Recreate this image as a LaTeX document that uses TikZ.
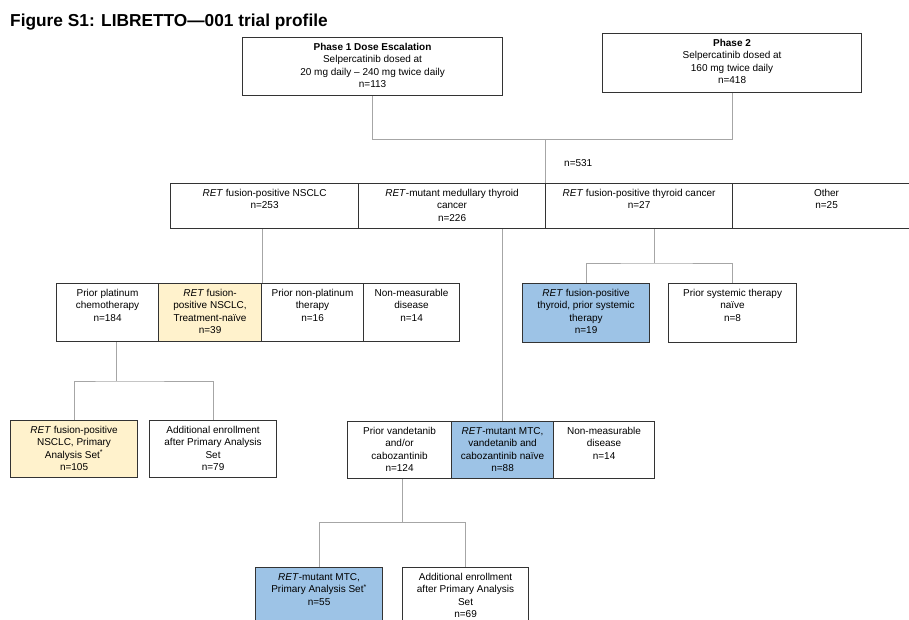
\documentclass[tikz,border=0pt]{standalone}
\usepackage{fontspec}
\setmainfont{Liberation Sans}
\usepackage{tikz}
\usetikzlibrary{shadows}
\definecolor{edge}{HTML}{333333}
\definecolor{link}{HTML}{A6A6A6}
\definecolor{paleY}{HTML}{FFF2CC}
\definecolor{paleB}{HTML}{9DC3E6}
\newcommand{\armbox}[7][]{%
  \node[trialbox,#1,minimum width=#5pt,minimum height=#6pt,anchor=north west] (#2) at (#3,#4)
    {\parbox[c][#6pt][t]{#5pt}{\centering\rule{0pt}{13pt}#7\par}};}

\begin{document}
\begin{tikzpicture}[x=1pt,y=-1pt,
  trialbox/.style={draw=edge,line width=1.1pt,inner sep=0pt,fill=white,
    drop shadow={shadow xshift=0.9pt,shadow yshift=-0.9pt,opacity=0.25,fill=black},
    font=\fontsize{10}{12.3}\selectfont},
  yel/.style={fill=paleY},
  blu/.style={fill=paleB},
  link/.style={draw=link,line width=0.9pt}]
\useasboundingbox (0,0) rectangle (909,619);
\node[font=\bfseries\fontsize{17.3}{20}\selectfont,anchor=base west,inner sep=0pt] (title) at (10,26)
  {Figure S1: LIBRETTO—001 trial profile};
\armbox{p1}{242}{37}{260}{58}{\textbf{Phase 1 Dose Escalation}\\Selpercatinib dosed at\\20 mg daily – 240 mg twice daily\\n=113}
\armbox{p2}{602}{33}{259}{59}{\textbf{Phase 2}\\Selpercatinib dosed at\\160 mg twice daily\\n=418}
\armbox{nsclc}{170}{183}{188}{45}{\textit{RET} fusion-positive NSCLC\\n=253}
\armbox{mtc}{358}{183}{187}{45}{\textit{RET}-mutant medullary thyroid\\cancer\\n=226}
\armbox{thy}{545}{183}{187}{45}{\textit{RET} fusion-positive thyroid cancer\\n=27}
\armbox{other}{732}{183}{188}{45}{Other\\n=25}
\armbox{plat}{56}{283}{102}{58}{Prior platinum\\chemotherapy\\n=184}
\armbox[yel]{naive}{158}{283}{103}{58}{\textit{RET} fusion-\\positive NSCLC,\\Treatment-naïve\\n=39}
\armbox{nonplat}{261}{283}{102}{58}{Prior non-platinum\\therapy\\n=16}
\armbox{nmeasA}{363}{283}{96}{58}{Non-measurable\\disease\\n=14}
\armbox[blu]{thyprior}{522}{283}{127}{59}{\textit{RET} fusion-positive\\thyroid, prior systemic\\therapy\\n=19}
\armbox{thynaive}{668}{283}{128}{59}{Prior systemic therapy\\naïve\\n=8}
\armbox[yel]{pasA}{10}{420}{127}{57}{\textit{RET} fusion-positive\\NSCLC, Primary\\Analysis Set\textsuperscript{*}\\n=105}
\armbox{addA}{149}{420}{127}{57}{Additional enrollment\\after Primary Analysis\\Set\\n=79}
\armbox{vand}{347}{421}{104}{57}{Prior vandetanib\\and/or\\cabozantinib\\n=124}
\armbox[blu]{mtcnaive}{451}{421}{102}{57}{\textit{RET}-mutant MTC,\\vandetanib and\\cabozantinib naïve\\n=88}
\armbox{nmeasB}{553}{421}{101}{57}{Non-measurable\\disease\\n=14}
\armbox[blu]{pasB}{255}{567}{127}{62}{\textit{RET}-mutant MTC,\\Primary Analysis Set\textsuperscript{*}\\n=55}
\armbox{addB}{402}{567}{126}{62}{Additional enrollment\\after Primary Analysis\\Set\\n=69}
\coordinate (hub) at (545,139);
\coordinate (thyfork) at (654,263);
\coordinate (platfork) at (116,381);
\coordinate (vandfork) at (402,522);
\draw[link] (p1.south) -- (p1.south |- hub) -- (p2.south |- hub) -- (p2.south);
\draw[link] (hub) -- (hub |- mtc.north);
\node[font=\fontsize{10}{12}\selectfont,anchor=west,inner sep=0pt] (ntotal) at (564,163) {n=531};
\draw[link] (naive.north east |- nsclc.south) -- (naive.north east);
\draw[link] (mtcnaive.north |- mtc.south) -- (mtcnaive.north);
\draw[link] (thyfork |- thy.south) -- (thyfork);
\draw[link] (thyprior.north) |- (thyfork) -| (thynaive.north);
\draw[link] (platfork |- plat.south) -- (platfork);
\draw[link] (pasA.north) |- (platfork) -| (addA.north);
\draw[link] (vandfork |- vand.south) -- (vandfork);
\draw[link] (pasB.north) |- (vandfork) -| (addB.north);
\end{tikzpicture}
\end{document}
